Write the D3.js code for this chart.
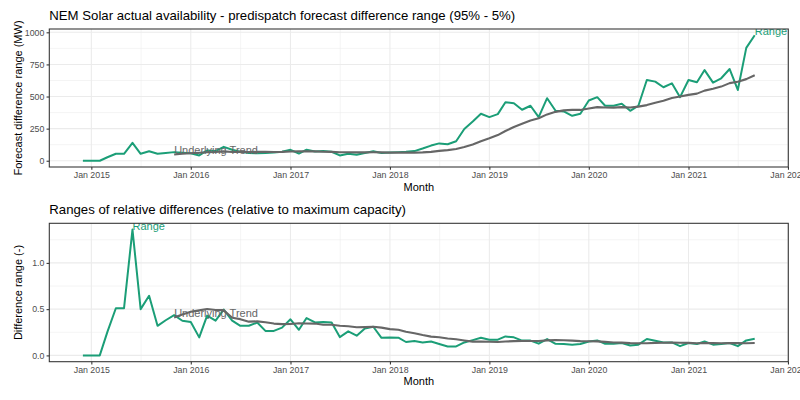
<!DOCTYPE html>
<html>
<head>
<meta charset="utf-8">
<script src="https://cdn.jsdelivr.net/npm/d3@7"></script>
<style>
  html, body { margin: 0; padding: 0; background: #ffffff; }
  svg { display: block; font-family: "Liberation Sans", Arial, Helvetica, sans-serif; }
</style>
</head>
<body>
<svg id="chart" width="800" height="400"></svg>
<script>
// ---------------- DATA ----------------
const months = [
  "2014-12",
  "2015-01","2015-02","2015-03","2015-04","2015-05","2015-06","2015-07","2015-08","2015-09","2015-10","2015-11","2015-12",
  "2016-01","2016-02","2016-03","2016-04","2016-05","2016-06","2016-07","2016-08","2016-09","2016-10","2016-11","2016-12",
  "2017-01","2017-02","2017-03","2017-04","2017-05","2017-06","2017-07","2017-08","2017-09","2017-10","2017-11","2017-12",
  "2018-01","2018-02","2018-03","2018-04","2018-05","2018-06","2018-07","2018-08","2018-09","2018-10","2018-11","2018-12",
  "2019-01","2019-02","2019-03","2019-04","2019-05","2019-06","2019-07","2019-08","2019-09","2019-10","2019-11","2019-12",
  "2020-01","2020-02","2020-03","2020-04","2020-05","2020-06","2020-07","2020-08","2020-09","2020-10","2020-11","2020-12",
  "2021-01","2021-02","2021-03","2021-04","2021-05","2021-06","2021-07","2021-08","2021-09"
];
const trendStartMonth = "2015-11";

// Top panel: forecast difference range (MW)
const rangeMW = [
  0,0,0,27,54,54,139,54,74,54,60,67,
  62,58,41,80,75,108,85,70,60,58,60,65,
  70,85,56,86,72,75,70,41,55,47,60,73,
  60,64,67,70,75,95,118,135,128,152,247,306,
  366,340,363,456,448,397,428,340,487,389,384,350,
  366,469,495,428,428,443,389,428,629,616,572,603,
  495,629,611,706,608,642,714,551,879,977
];
const trendMW = [
  48.6,53.8,58.6,62.0,66.4,68.2,72.7,68.2,69.5,68.3,68.7,68.7,68.5,
  69.2,71.4,72.7,73.2,72.9,70.2,68.9,66.5,66.1,65.2,65.2,65.8,
  65.0,63.3,64.2,62.8,63.1,64.8,68.8,76.6,82.7,91.4,107.0,126.4,
  151.9,174.9,199.6,231.8,262.8,288.0,313.8,330.9,360.8,380.6,392.0,395.7,
  395.7,406.4,417.4,415.1,413.4,417.3,414.0,421.3,433.2,452.1,467.8,488.8,
  499.6,512.9,522.6,545.8,560.8,577.3,604.4,614.7,635.5,665.6
];

// Bottom panel: relative difference range (-)
const rangeRel = [
  0,0,0,0.255,0.51,0.51,1.36,0.50,0.645,0.32,0.38,0.435,
  0.375,0.36,0.195,0.43,0.375,0.495,0.375,0.32,0.32,0.355,0.265,0.265,
  0.30,0.39,0.277,0.404,0.356,0.36,0.355,0.198,0.26,0.213,0.292,0.31,
  0.19,0.193,0.192,0.145,0.155,0.14,0.15,0.123,0.097,0.097,0.14,0.165,
  0.19,0.17,0.17,0.205,0.195,0.16,0.16,0.127,0.177,0.126,0.123,0.116,
  0.123,0.151,0.162,0.126,0.126,0.134,0.108,0.116,0.177,0.159,0.14,0.14,
  0.1,0.134,0.123,0.151,0.116,0.123,0.134,0.1,0.162,0.18
];
const trendRel = [
  0.410,0.441,0.471,0.487,0.502,0.490,0.489,0.407,0.392,0.365,0.368,0.358,0.344,
  0.338,0.340,0.347,0.345,0.344,0.332,0.331,0.320,0.315,0.304,0.306,0.310,
  0.300,0.284,0.277,0.255,0.239,0.220,0.203,0.197,0.183,0.174,0.161,0.149,
  0.149,0.147,0.145,0.150,0.154,0.155,0.156,0.156,0.163,0.165,0.164,0.160,
  0.154,0.153,0.152,0.146,0.140,0.138,0.133,0.132,0.132,0.135,0.137,0.139,
  0.137,0.135,0.132,0.134,0.133,0.132,0.134,0.133,0.132,0.134
];

const xTickLabels = ["Jan 2015","Jan 2016","Jan 2017","Jan 2018","Jan 2019","Jan 2020","Jan 2021","Jan 2022"];
const yTicksMW = [0, 250, 500, 750, 1000];
const yTicksRel = [0, 0.5, 1.0];
const seriesLabels = ["Range", "Underlying Trend"];

// ---------------- CHART ----------------
const svg = d3.select("#chart");
const parseMonth = d3.timePubParse ? null : d3.timeParse("%Y-%m");
const pm = d3.timeParse("%Y-%m");
const parseTick = d3.timeParse("%b %Y");
const dates = months.map(pm);
const trendStartIdx = months.indexOf(trendStartMonth);
const trendDates = dates.slice(trendStartIdx);

const GREEN = "#1b9e77";
const GREY = "#666666";
const left = 49.3, right = 788.3;

const d0 = dates[0], d1 = dates[dates.length - 1];
const span = d1 - d0;
const x = d3.scaleTime()
  .domain([new Date(+d0 - 0.05 * span), new Date(+d1 + 0.05 * span)])
  .range([left, right]);

const tickDates = xTickLabels.map(parseTick);

function drawPanel(cfg) {
  const g = svg.append("g");
  const allVals = cfg.range.concat(cfg.trend);
  const [mn, mx] = d3.extent(allVals);
  const pad = 0.05 * (mx - mn);
  const y = d3.scaleLinear().domain([mn - pad, mx + pad]).range([cfg.bottom, cfg.top]);

  const clipId = "clip" + cfg.id;
  svg.append("clipPath").attr("id", clipId)
    .append("rect").attr("x", left).attr("y", cfg.top)
    .attr("width", right - left).attr("height", cfg.bottom - cfg.top);

  // background
  g.append("rect").attr("x", left).attr("y", cfg.top)
    .attr("width", right - left).attr("height", cfg.bottom - cfg.top)
    .attr("fill", "#ffffff");

  const grid = g.append("g").attr("clip-path", `url(#${clipId})`);
  // minor x grid (mid-year)
  const minorX = d3.pairs(tickDates).map(([a, b]) => new Date((+a + +b) / 2));
  const dom = x.domain();
  const firstMinor = new Date(+tickDates[0] - (tickDates[1] - tickDates[0]) / 2);
  [firstMinor].concat(minorX).filter(d => d >= dom[0] && d <= dom[1]).forEach(d => {
    grid.append("line").attr("x1", x(d)).attr("x2", x(d))
      .attr("y1", cfg.top).attr("y2", cfg.bottom)
      .attr("stroke", "#ebebeb").attr("stroke-width", 0.55);
  });
  // minor y grid
  const yt = cfg.yTicks;
  const step = yt[1] - yt[0];
  const minorY = [];
  for (let i = -1; i < yt.length; i++) {
    const v = (i < 0 ? yt[0] - step : yt[i]) + step / 2;
    const yd = y.domain();
    if (v >= yd[0] && v <= yd[1]) minorY.push(v);
  }
  minorY.forEach(v => {
    grid.append("line").attr("x1", left).attr("x2", right)
      .attr("y1", y(v)).attr("y2", y(v))
      .attr("stroke", "#ebebeb").attr("stroke-width", 0.55);
  });
  // major x grid
  tickDates.filter(d => d >= dom[0] && d <= dom[1]).forEach(d => {
    grid.append("line").attr("x1", x(d)).attr("x2", x(d))
      .attr("y1", cfg.top).attr("y2", cfg.bottom)
      .attr("stroke", "#ebebeb").attr("stroke-width", 1.07);
  });
  yt.forEach(v => {
    grid.append("line").attr("x1", left).attr("x2", right)
      .attr("y1", y(v)).attr("y2", y(v))
      .attr("stroke", "#ebebeb").attr("stroke-width", 1.07);
  });

  // lines
  const lines = g.append("g").attr("clip-path", `url(#${clipId})`);
  const line = d3.line().x(d => x(d[0])).y(d => y(d[1]));
  lines.append("path")
    .datum(dates.map((d, i) => [d, cfg.range[i]]))
    .attr("d", line).attr("fill", "none")
    .attr("stroke", GREEN).attr("stroke-width", 2).attr("stroke-linejoin", "round");
  lines.append("path")
    .datum(trendDates.map((d, i) => [d, cfg.trend[i]]))
    .attr("d", line).attr("fill", "none")
    .attr("stroke", GREY).attr("stroke-width", 2.1).attr("stroke-linejoin", "round");

  // direct labels
  const maxIdx = d3.maxIndex(cfg.range);
  lines.append("text")
    .attr("x", x(dates[maxIdx])).attr("y", y(cfg.range[maxIdx]))
    .attr("fill", GREEN).attr("font-size", 11).text(seriesLabels[0]);
  lines.append("text")
    .attr("x", x(trendDates[0])).attr("y", y(cfg.trend[0]))
    .attr("fill", GREY).attr("font-size", 11).text(seriesLabels[1]);

  // panel border
  g.append("rect").attr("x", left).attr("y", cfg.top)
    .attr("width", right - left).attr("height", cfg.bottom - cfg.top)
    .attr("fill", "none").attr("stroke", "#333333").attr("stroke-width", 1.07);

  // axes
  const xa = g.append("g").attr("transform", `translate(0,${cfg.bottom})`)
    .call(d3.axisBottom(x).tickValues(tickDates).tickFormat(d3.timeFormat("%b %Y"))
      .tickSize(2.75).tickPadding(2.2));
  const ya = g.append("g").attr("transform", `translate(${left},0)`)
    .call(d3.axisLeft(y).tickValues(yt).tickFormat(cfg.fmt).tickSize(2.75).tickPadding(2.2));
  [xa, ya].forEach(a => {
    a.select(".domain").remove();
    a.selectAll(".tick line").attr("stroke", "#333333").attr("stroke-width", 1.07);
    a.selectAll(".tick text").attr("fill", "#4d4d4d").attr("font-size", 8.8)
      .attr("font-family", "'Liberation Sans', Arial, sans-serif");
  });

  // titles
  svg.append("text").attr("x", left).attr("y", cfg.titleY)
    .attr("font-size", 13.2).attr("fill", "#000").text(cfg.title);
  svg.append("text").attr("x", (left + right) / 2).attr("y", cfg.bottom + 23.5)
    .attr("text-anchor", "middle").attr("font-size", 11).attr("fill", "#000").text("Month");
  svg.append("text")
    .attr("transform", `translate(22,${(cfg.top + cfg.bottom) / 2}) rotate(-90)`)
    .attr("text-anchor", "middle").attr("font-size", 11).attr("fill", "#000").text(cfg.ytitle);
}

drawPanel({
  id: "top", top: 29, bottom: 167, titleY: 19.5,
  title: "NEM Solar actual availability - predispatch forecast difference range (95% - 5%)",
  ytitle: "Forecast difference range (MW)",
  range: rangeMW, trend: trendMW, yTicks: yTicksMW, fmt: d3.format("d")
});
drawPanel({
  id: "bot", top: 223.3, bottom: 361.7, titleY: 213.8,
  title: "Ranges of relative differences (relative to maximum capacity)",
  ytitle: "Difference range (-)",
  range: rangeRel, trend: trendRel, yTicks: yTicksRel, fmt: d3.format(".1f")
});
</script>
</body>
</html>
